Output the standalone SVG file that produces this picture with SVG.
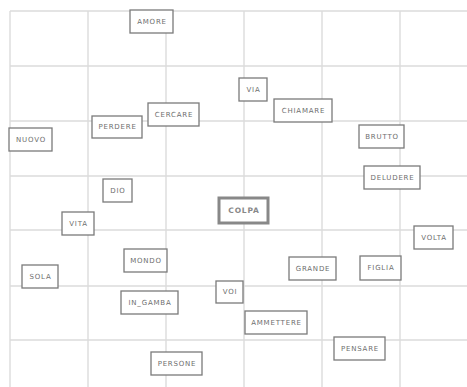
<svg xmlns="http://www.w3.org/2000/svg" width="467" height="387" viewBox="0 0 467 387">
<style>
.g{stroke:#dcdcdc;stroke-width:1.4;fill:none}
.n rect{fill:#fff;stroke:#7a7a7a;stroke-width:1.3}
.n text{font-family:"DejaVu Sans",sans-serif;font-size:7px;letter-spacing:0.8px;fill:#6e6e6e;text-anchor:middle;dominant-baseline:central}
#COLPA rect{stroke:#888;stroke-width:3}
#COLPA text{font-size:7.5px;font-weight:bold;fill:#888}
</style>
<rect width="467" height="387" fill="#fff"/>
<g id="grid" class="g">
<path d="M10 11H467M10 66H467M10 121H467M10 176H467M10 230H467M10 286H467M10 340H467"/>
<path d="M10 11V387M88 11V387M166 11V387M244 11V387M322 11V387M400 11V387"/>
</g>
<g id="connectors"></g>
<g id="AMORE" class="n"><rect x="130" y="10" width="43" height="23"/><text x="152" y="21.5">AMORE</text></g>
<g id="CERCARE" class="n"><rect x="148" y="103" width="51" height="23"/><text x="174" y="114.5">CERCARE</text></g>
<g id="PERDERE" class="n"><rect x="92" y="116" width="50" height="22"/><text x="117.5" y="127">PERDERE</text></g>
<g id="NUOVO" class="n"><rect x="9" y="128" width="43" height="23"/><text x="31" y="139.5">NUOVO</text></g>
<g id="VIA" class="n"><rect x="239" y="78" width="28" height="23"/><text x="253.5" y="89.5">VIA</text></g>
<g id="CHIAMARE" class="n"><rect x="274" y="99" width="58" height="23"/><text x="303.5" y="110.5">CHIAMARE</text></g>
<g id="BRUTTO" class="n"><rect x="359" y="125" width="45" height="23"/><text x="382" y="136.5">BRUTTO</text></g>
<g id="DELUDERE" class="n"><rect x="364" y="166" width="56" height="23"/><text x="392.5" y="177.5">DELUDERE</text></g>
<g id="DIO" class="n"><rect x="103" y="179" width="29" height="23"/><text x="118" y="190.5">DIO</text></g>
<g id="VITA" class="n"><rect x="62" y="212" width="32" height="23"/><text x="78.5" y="223.5">VITA</text></g>
<g id="COLPA" class="n"><rect x="219" y="198" width="49" height="25"/><text x="244" y="210.5">COLPA</text></g>
<g id="VOLTA" class="n"><rect x="414" y="226" width="39" height="23"/><text x="434" y="237.5">VOLTA</text></g>
<g id="MONDO" class="n"><rect x="124" y="249" width="43" height="23"/><text x="146" y="260.5">MONDO</text></g>
<g id="SOLA" class="n"><rect x="22" y="265" width="36" height="23"/><text x="40.5" y="276.5">SOLA</text></g>
<g id="GRANDE" class="n"><rect x="289" y="257" width="47" height="23"/><text x="313" y="268.5">GRANDE</text></g>
<g id="FIGLIA" class="n"><rect x="360" y="256" width="41" height="24"/><text x="381" y="268">FIGLIA</text></g>
<g id="VOI" class="n"><rect x="216" y="281" width="27" height="22"/><text x="230" y="292">VOI</text></g>
<g id="IN_GAMBA" class="n"><rect x="121" y="291" width="57" height="23"/><text x="150" y="302.5">IN_GAMBA</text></g>
<g id="AMMETTERE" class="n"><rect x="245" y="311" width="62" height="23"/><text x="276.5" y="322.5">AMMETTERE</text></g>
<g id="PENSARE" class="n"><rect x="334" y="337" width="51" height="23"/><text x="360" y="348.5">PENSARE</text></g>
<g id="PERSONE" class="n"><rect x="151" y="352" width="51" height="23"/><text x="177" y="363.5">PERSONE</text></g>
</svg>
